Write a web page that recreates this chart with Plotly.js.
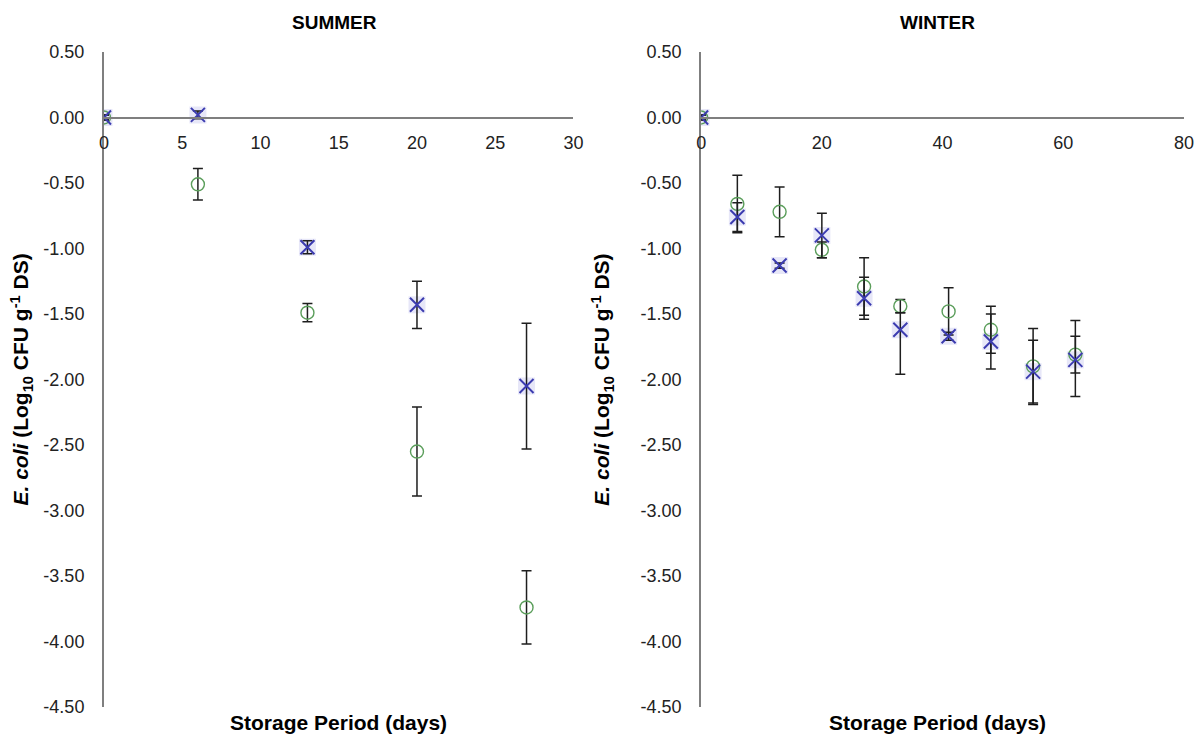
<!DOCTYPE html>
<html>
<head>
<meta charset="utf-8">
<script src="https://cdn.plot.ly/plotly-3.0.1.min.js"></script>
<style>html,body{margin:0;padding:0;background:#fff;}#chart{width:1198px;height:737px;}</style>
</head>
<body>
<div id="chart"></div>
<script>
// ---- Data ----
const summerDays = [0, 6, 13, 20, 27];
const summerCircle = [0, -0.51, -1.49, -2.55, -3.74];
const summerCircleErr = [0.02, 0.12, 0.07, 0.34, 0.28];
const summerCross = [0, 0.02, -0.99, -1.43, -2.05];
const summerCrossErr = [0.02, 0.03, 0.05, 0.18, 0.48];

const winterDays = [0, 6, 13, 20, 27, 33, 41, 48, 55, 62];
const winterCircle = [0, -0.66, -0.72, -1.01, -1.29, -1.44, -1.48, -1.62, -1.90, -1.81];
const winterCircleErr = [0.02, 0.22, 0.19, 0.06, 0.22, 0.05, 0.18, 0.18, 0.29, 0.14];
const winterCross = [0, -0.76, -1.13, -0.90, -1.38, -1.62, -1.67, -1.71, -1.94, -1.85];
const winterCrossErrPlus = [0.02, 0.11, 0.02, 0.17, 0.16, 0.13, 0.03, 0.21, 0.24, 0.30];
const winterCrossErrMinus = [0.02, 0.11, 0.02, 0.17, 0.16, 0.34, 0.03, 0.21, 0.24, 0.28];

const yTickVals = [0.5, 0, -0.5, -1, -1.5, -2, -2.5, -3, -3.5, -4, -4.5];
const yTickText = ["0.50", "0.00", "-0.50", "-1.00", "-1.50", "-2.00", "-2.50", "-3.00", "-3.50", "-4.00", "-4.50"];
const summerXTicks = [0, 5, 10, 15, 20, 25, 30];
const winterXTicks = [0, 20, 40, 60, 80];

const panelTitles = ["SUMMER", "WINTER"];
const xTitle = "Storage Period (days)";
const yTitle = "<i>E. coli</i> (Log<sub>10</sub> CFU g<sup>-1</sup> DS)";

// ---- Styles ----
const green = "#5b9e5b";
const blue = "#3c3cb0";
const errColor = "#1e1e1e";
const axisColor = "#7f7f7f";
const font = "Liberation Sans, Arial, sans-serif";

function circleTrace(x, y, err, xa, ya) {
  return {
    x: x, y: y, xaxis: xa, yaxis: ya, type: "scatter", mode: "markers",
    name: "circle series", showlegend: false,
    marker: {symbol: "circle-open", size: 13, color: green, line: {color: green, width: 1.4}},
    error_y: {type: "data", array: err, visible: true, color: errColor, thickness: 1.5, width: 5}
  };
}
function crossTrace(x, y, errP, errM, xa, ya) {
  return {
    x: x, y: y, xaxis: xa, yaxis: ya, type: "scatter", mode: "markers",
    name: "cross series", showlegend: false,
    marker: {symbol: "x-thin-open", size: 14, color: blue, line: {color: blue, width: 2}},
    error_y: {type: "data", symmetric: false, array: errP, arrayminus: errM, visible: true, color: errColor, thickness: 1.5, width: 5}
  };
}
function haloTrace(x, y, xa, ya) {
  return {
    x: x, y: y, xaxis: xa, yaxis: ya, type: "scatter", mode: "markers",
    name: "cross halo", showlegend: false, hoverinfo: "skip",
    marker: {symbol: "square", size: 17, color: "rgba(170,170,230,0.28)", line: {width: 0}}
  };
}

const data = [
  haloTrace(summerDays, summerCross, "x", "y"),
  circleTrace(summerDays, summerCircle, summerCircleErr, "x", "y"),
  crossTrace(summerDays, summerCross, summerCrossErr, summerCrossErr, "x", "y"),
  haloTrace(winterDays, winterCross, "x2", "y2"),
  circleTrace(winterDays, winterCircle, winterCircleErr, "x2", "y2"),
  crossTrace(winterDays, winterCross, winterCrossErrPlus, winterCrossErrMinus, "x2", "y2")
];

const yRange = [-4.5, 0.5];
const zeroPos = (0 - yRange[0]) / (yRange[1] - yRange[0]);

function xAxis(dom, range, ticks) {
  return {
    domain: dom, range: range, anchor: "free", position: zeroPos,
    tickvals: ticks, ticktext: ticks.map(String), ticks: "",
    showline: true, linecolor: axisColor, linewidth: 2, showgrid: false, zeroline: false,
    tickfont: {family: font, size: 18, color: "#222"}, ticklabelstandoff: 9
  };
}
function yAxis(anchor) {
  return {
    domain: [0, 1], range: yRange, anchor: anchor,
    tickvals: yTickVals, ticktext: yTickText, ticks: "",
    showline: true, linecolor: axisColor, linewidth: 2, showgrid: false, zeroline: false,
    tickfont: {family: font, size: 18, color: "#222"}, ticklabelstandoff: 14
  };
}

const titleFont = {family: font, size: 19, color: "#000"};
const axTitleFont = {family: font, size: 21, color: "#000"};

const layout = {
  width: 1198, height: 737,
  margin: {l: 104, r: 14, t: 52, b: 30},
  paper_bgcolor: "#fff", plot_bgcolor: "#fff",
  showlegend: false,
  xaxis: xAxis([0, 0.4347], [0, 30], summerXTicks),
  yaxis: yAxis("x"),
  xaxis2: xAxis([0.5529, 1], [0, 80], winterXTicks),
  yaxis2: yAxis("x2"),
  annotations: [
    {text: "<b>" + panelTitles[0] + "</b>", xref: "x domain", yref: "paper", x: 0.49, y: 1, yshift: 30, xanchor: "center", yanchor: "middle", showarrow: false, font: titleFont},
    {text: "<b>" + panelTitles[1] + "</b>", xref: "x2 domain", yref: "paper", x: 0.49, y: 1, yshift: 30, xanchor: "center", yanchor: "middle", showarrow: false, font: titleFont},
    {text: "<b>" + xTitle + "</b>", xref: "x domain", yref: "paper", x: 0.5, y: 0, yshift: -15, xanchor: "center", yanchor: "middle", showarrow: false, font: axTitleFont},
    {text: "<b>" + xTitle + "</b>", xref: "x2 domain", yref: "paper", x: 0.49, y: 0, yshift: -15, xanchor: "center", yanchor: "middle", showarrow: false, font: axTitleFont},
    {text: "<b>" + yTitle + "</b>", xref: "paper", yref: "paper", x: 0, xshift: -83, y: 0.5, textangle: -90, xanchor: "center", yanchor: "middle", showarrow: false, font: axTitleFont},
    {text: "<b>" + yTitle + "</b>", xref: "x2 domain", yref: "paper", x: 0, xshift: -99, y: 0.5, textangle: -90, xanchor: "center", yanchor: "middle", showarrow: false, font: axTitleFont}
  ]
};

Plotly.newPlot("chart", data, layout, {displayModeBar: false, staticPlot: true});
</script>
</body>
</html>
